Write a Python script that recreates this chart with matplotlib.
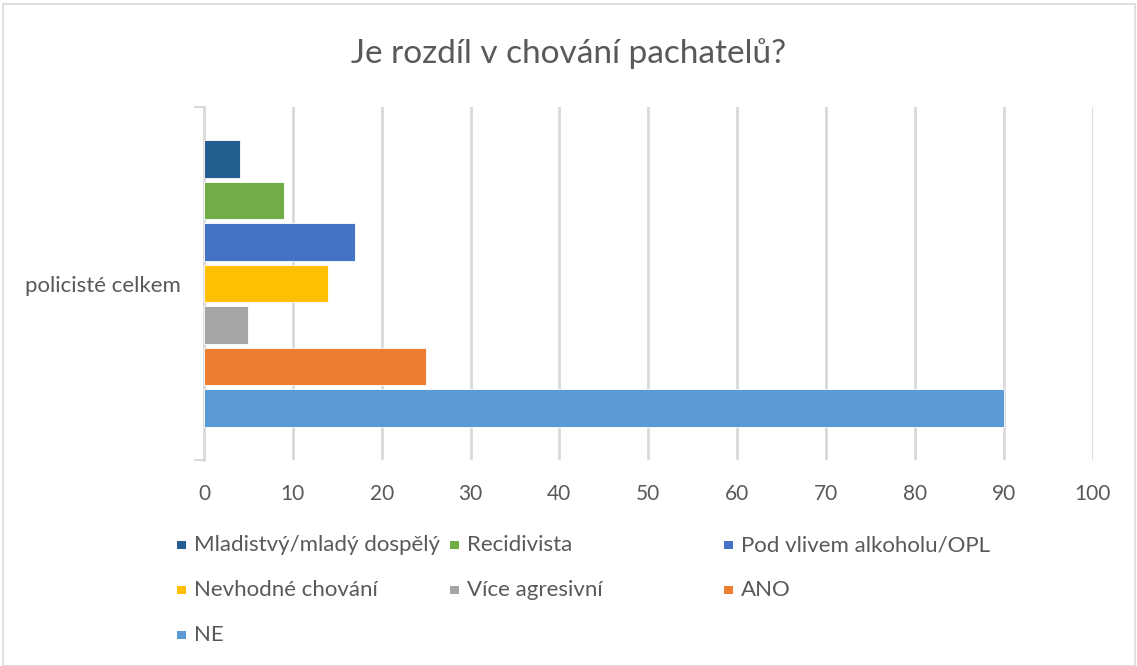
import matplotlib
matplotlib.use("Agg")
import matplotlib.pyplot as plt
from matplotlib.patches import Rectangle

plt.rcParams['font.family'] = ['Lato', 'DejaVu Sans']

title = "Je rozdíl v chování pachatelů?"
category = "policisté celkem"
series = ["Mladistvý/mladý dospělý", "Recidivista", "Pod vlivem alkoholu/OPL",
          "Nevhodné chování", "Více agresivní", "ANO", "NE"]
values = [4, 9, 17, 14, 5, 25, 90]
colors = ["#255E91", "#70AD47", "#4472C4", "#FFC000", "#A5A5A5", "#ED7D31", "#5B9BD5"]
xticks = [0, 10, 20, 30, 40, 50, 60, 70, 80, 90, 100]

TXT = "#595959"
GRID = "#D9D9D9"

W, H = 1137, 666
fig = plt.figure(figsize=(W / 100, H / 100), dpi=100)

# chart border
fig.patches.append(Rectangle((3 / W, 0), (W - 5) / W, (H - 4) / H, transform=fig.transFigure,
                             fill=False, edgecolor=GRID, linewidth=1.2))

ax = fig.add_axes([204 / W, 1 - 460 / H, (1092.5 - 204) / W, (460 - 107) / H])

n = len(series)
pitch = 41.5 / 353
height = 37.5 / 353
for i, (s, v, c) in enumerate(zip(series, values, colors)):
    y = (n - 1) / 2 * pitch - i * pitch
    ax.barh(y, v, height=height, color=c, edgecolor="white", linewidth=0.6, zorder=3)

ax.set_xlim(0, 100)
ax.set_ylim(-0.5, 0.5)
ax.set_xticks(xticks)
ax.set_xticklabels([str(t) for t in xticks], fontsize=15, color=TXT)
ax.tick_params(axis="x", length=0, pad=17)
ax.grid(axis="x", color=GRID, linewidth=2, zorder=0)

ax.set_yticks([-0.5, 0.5])
ax.set_yticklabels(["", ""])
ax.tick_params(axis="y", which="major", length=7, width=1.5, color=GRID, direction="out")
ax.set_yticks([0], minor=True)
ax.set_yticklabels([category], minor=True, fontsize=16, color=TXT)
ax.tick_params(axis="y", which="minor", length=0, pad=17)

for sp in ["top", "right", "bottom"]:
    ax.spines[sp].set_visible(False)
ax.spines["left"].set_color(GRID)
ax.spines["left"].set_linewidth(2)

fig.text(0.5, 1 - 63 / H, title, ha="center", va="baseline", fontsize=24, color=TXT)

# legend (row-major, 3 columns)
col_x = [181.5, 454.5, 728.5]
row_y = [545, 590, 635]
sq = 8.5
for i, (s, c) in enumerate(zip(series, colors)):
    r, k = divmod(i, 3)
    x, y = col_x[k], row_y[r]
    fig.patches.append(Rectangle(((x - sq / 2) / W, 1 - (y + sq / 2) / H), sq / W, sq / H,
                                 transform=fig.transFigure, facecolor=c, edgecolor="none"))
    fig.text((x + 12.5) / W, 1 - y / H, s, ha="left", va="center", fontsize=16, color=TXT)

fig.savefig("out.png", dpi=100)
